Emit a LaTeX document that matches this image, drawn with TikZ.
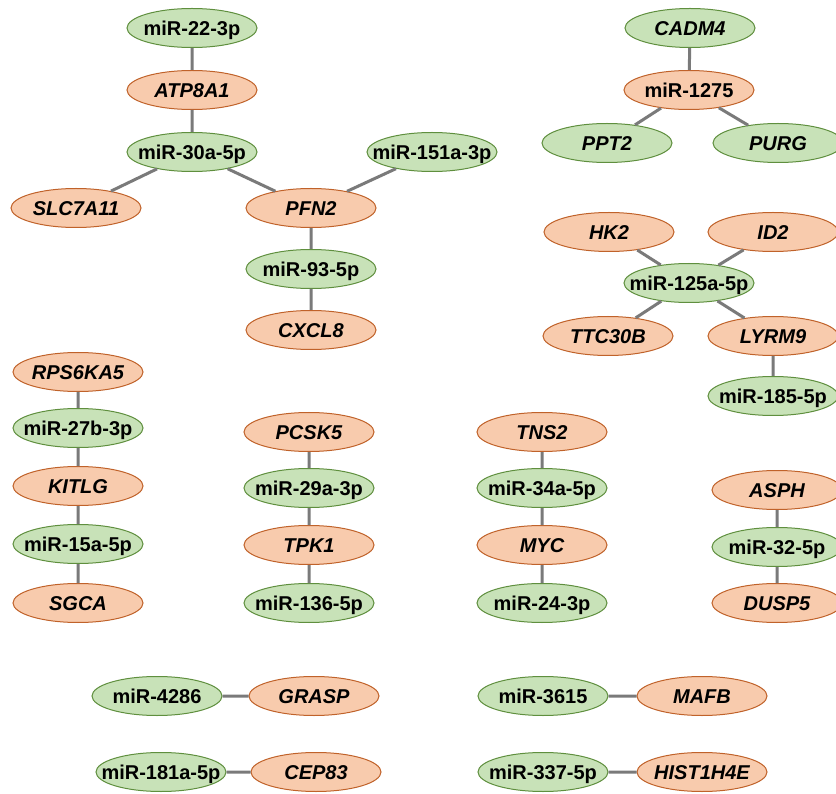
\documentclass[tikz,border=0pt]{standalone}
\usepackage{fontspec}
\setmainfont{Liberation Sans}
\usetikzlibrary{shapes.geometric}
\definecolor{gfill}{HTML}{C8E2B8}
\definecolor{gdraw}{HTML}{5F8F3E}
\definecolor{ofill}{HTML}{F8CBAD}
\definecolor{odraw}{HTML}{C0622A}
\definecolor{edgec}{HTML}{7A7A7A}
\newcommand{\zw}[1]{\makebox[0pt]{#1}}
\tikzset{
  base/.style={ellipse, minimum width=130pt, minimum height=39pt, inner sep=0pt, line width=1pt,
    text height=14.3pt, text depth=0pt,
    font=\fontsize{20}{22}\selectfont\bfseries},
  mir/.style={base, fill=gfill, draw=gdraw},
  gene/.style={base, fill=ofill, draw=odraw},
  gi/.style={font=\fontsize{20}{22}\selectfont\bfseries\itshape},
  link/.style={draw=edgec, line width=3pt}
}
\begin{document}
\begin{tikzpicture}[x=1pt,y=-1pt]
\path[use as bounding box, fill=white] (0,0) rectangle (836,794);
\begin{scope}
\clip (0,0) rectangle (836,794);
% cluster 1
\node[mir] (m22) at (192,28) {\zw{miR-22-3p}};
\node[gene,gi] (atp) at (192,90) {\zw{ATP8A1}};
\node[mir] (m30) at (192,152) {\zw{miR-30a-5p}};
\node[gene,gi] (slc) at (76,208) {\zw{SLC7A11}};
\node[gene,gi] (pfn) at (311,208) {\zw{PFN2}};
\node[mir] (m151) at (432,152) {\zw{miR-151a-3p}};
\node[mir] (m93) at (311,269) {\zw{miR-93-5p}};
\node[gene,gi] (cxcl) at (311,330) {\zw{CXCL8}};
% cluster 2
\node[mir,gi] (cadm) at (690,28) {\zw{CADM4}};
\node[gene] (m1275) at (689,90) {\zw{miR-1275}};
\node[mir,gi] (ppt) at (607,143) {\zw{PPT2}};
\node[mir,gi] (purg) at (778,143) {\zw{PURG}};
% cluster 3
\node[gene,gi] (hk) at (609,232) {\zw{HK2}};
\node[gene,gi] (id) at (773,232) {\zw{ID2}};
\node[mir] (m125) at (689,283) {\zw{miR-125a-5p}};
\node[gene,gi] (ttc) at (608,336) {\zw{TTC30B}};
\node[gene,gi] (lyrm) at (773,336) {\zw{LYRM9}};
\node[mir] (m185) at (773,396) {\zw{miR-185-5p}};
% column 1
\node[gene,gi] (rps) at (78,372) {\zw{RPS6KA5}};
\node[mir] (m27) at (78,428) {\zw{miR-27b-3p}};
\node[gene,gi] (kit) at (78,486) {\zw{KITLG}};
\node[mir] (m15) at (78,544) {\zw{miR-15a-5p}};
\node[gene,gi] (sgca) at (78,603) {\zw{SGCA}};
% column 2
\node[gene,gi] (pcsk) at (309,432) {\zw{PCSK5}};
\node[mir] (m29) at (309,488) {\zw{miR-29a-3p}};
\node[gene,gi] (tpk) at (309,545) {\zw{TPK1}};
\node[mir] (m136) at (309,603) {\zw{miR-136-5p}};
% column 3
\node[gene,gi] (tns) at (542,432) {\zw{TNS2}};
\node[mir] (m34) at (542,488) {\zw{miR-34a-5p}};
\node[gene,gi] (myc) at (542,545) {\zw{MYC}};
\node[mir] (m24) at (542,603) {\zw{miR-24-3p}};
% column 4
\node[gene,gi] (asph) at (777,490) {\zw{ASPH}};
\node[mir] (m32) at (777,547) {\zw{miR-32-5p}};
\node[gene,gi] (dusp) at (777,603) {\zw{DUSP5}};
% pairs
\node[mir] (m4286) at (157,696) {\zw{miR-4286}};
\node[gene,gi] (grasp) at (314,696) {\zw{GRASP}};
\node[mir] (m3615) at (543,696) {\zw{miR-3615}};
\node[gene,gi] (mafb) at (702,696) {\zw{MAFB}};
\node[mir] (m181) at (161,772) {\zw{miR-181a-5p}};
\node[gene,gi] (cep) at (316,772) {\zw{CEP83}};
\node[mir] (m337) at (543,772) {\zw{miR-337-5p}};
\node[gene,gi] (hist) at (702,772) {\zw{HIST1H4E}};
% connectors
\path[link] (m22) -- (atp) (atp) -- (m30) (m30) -- (slc) (m30) -- (pfn) (pfn) -- (m151)
  (pfn) -- (m93) (m93) -- (cxcl)
  (cadm) -- (m1275) (m1275) -- (ppt) (m1275) -- (purg)
  (hk) -- (m125) (id) -- (m125) (ttc) -- (m125) (lyrm) -- (m125) (lyrm) -- (m185)
  (rps) -- (m27) (m27) -- (kit) (kit) -- (m15) (m15) -- (sgca)
  (pcsk) -- (m29) (m29) -- (tpk) (tpk) -- (m136)
  (tns) -- (m34) (m34) -- (myc) (myc) -- (m24)
  (asph) -- (m32) (m32) -- (dusp)
  (m4286) -- (grasp) (m3615) -- (mafb) (m181) -- (cep) (m337) -- (hist);
\end{scope}
\end{tikzpicture}
\end{document}
